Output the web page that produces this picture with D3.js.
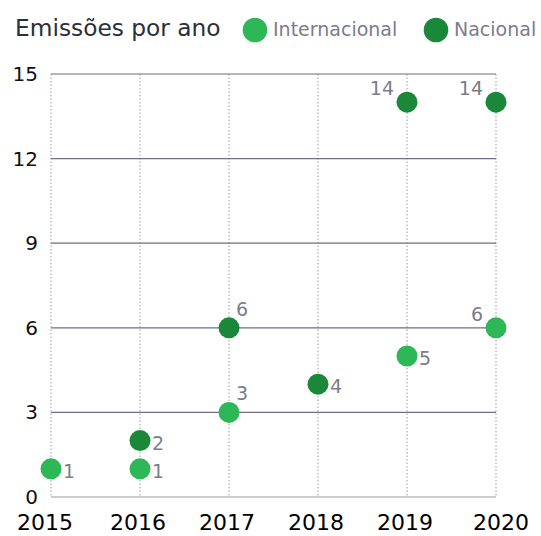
<!DOCTYPE html>
<html>
<head>
<meta charset="utf-8">
<script src="https://cdn.jsdelivr.net/npm/d3@7"></script>
<style>
  body { margin: 0; background: #fff; }
  svg { display: block; }
</style>
</head>
<body>
<div id="chart"></div>
<script>
// data
const years = [2015, 2016, 2017, 2018, 2019, 2020];
const yTicks = [0, 3, 6, 9, 12, 15];
const internacional = [
  {year: 2015, value: 1},
  {year: 2016, value: 1},
  {year: 2017, value: 3},
  {year: 2019, value: 5},
  {year: 2020, value: 6}
];
const nacional = [
  {year: 2016, value: 2},
  {year: 2017, value: 6},
  {year: 2018, value: 4},
  {year: 2019, value: 14},
  {year: 2020, value: 14}
];

const width = 541, height = 536;
const margin = {top: 74, right: 45, bottom: 39, left: 51};

const svg = d3.select('#chart')
  .append('svg')
  .attr('width', width)
  .attr('height', height);

const x = d3.scaleLinear()
  .domain([2015, 2020])
  .range([margin.left, width - margin.right]);

const y = d3.scaleLinear()
  .domain([0, 15])
  .range([height - margin.bottom, margin.top]);

const font = '"DejaVu Sans", Verdana, sans-serif';

// vertical dotted lines
svg.append('g')
  .selectAll('line')
  .data(years)
  .enter()
  .append('line')
  .attr('x1', d => x(d))
  .attr('x2', d => x(d))
  .attr('y1', y(15))
  .attr('y2', y(0))
  .attr('stroke', '#9a9aa6')
  .attr('stroke-width', 1)
  .attr('stroke-dasharray', '1.5,2');

// horizontal grid
svg.append('g')
  .selectAll('line')
  .data(yTicks)
  .enter()
  .append('line')
  .attr('x1', x(2015))
  .attr('x2', x(2020))
  .attr('y1', d => y(d))
  .attr('y2', d => y(d))
  .attr('stroke', d => d === 0 ? '#9a9aae' : '#6e6e84')
  .attr('stroke-width', 1.2);

// y labels
svg.append('g')
  .selectAll('text')
  .data(yTicks)
  .enter()
  .append('text')
  .attr('x', 38)
  .attr('y', d => y(d) + 7)
  .attr('text-anchor', 'end')
  .attr('font-family', font)
  .attr('font-size', 20)
  .attr('fill', '#111')
  .text(d => d);

// x labels (end labels pushed outward a bit like the original)
svg.append('g')
  .selectAll('text')
  .data(years)
  .enter()
  .append('text')
  .attr('x', (d, i) => x(d) + (i === 0 ? -6 : i === years.length - 1 ? 5 : -2))
  .attr('y', 530)
  .attr('text-anchor', 'middle')
  .attr('font-family', font)
  .attr('font-size', 22)
  .attr('fill', '#000')
  .text(d => d);

const colorInt = '#2db757';
const colorNac = '#1a8838';

// label placement: 'r' right, 'ur' up-right, 'ul' up-left
const place = {
  'n2017': 'ur', 'i2017': 'ur',
  'n2019': 'ul', 'n2020': 'ul', 'i2020': 'ul'
};

function drawSeries(data, color, key) {
  const g = svg.append('g');
  g.selectAll('circle')
    .data(data)
    .enter()
    .append('circle')
    .attr('cx', d => x(d.year))
    .attr('cy', d => y(d.value))
    .attr('r', 10.5)
    .attr('fill', color);

  g.selectAll('text')
    .data(data)
    .enter()
    .append('text')
    .attr('font-family', font)
    .attr('font-size', 19)
    .attr('fill', '#7c7c8c')
    .attr('x', d => {
      const p = place[key + d.year] || 'r';
      if (p === 'ul') return x(d.year) - 13;
      if (p === 'ur') return x(d.year) + 7;
      return x(d.year) + 12;
    })
    .attr('y', d => {
      const p = place[key + d.year] || 'r';
      if (p === 'r') return y(d.value) + 9;
      if (p === 'ur') return y(d.value) - 12;
      return y(d.value) - 7;
    })
    .attr('text-anchor', d => (place[key + d.year] === 'ul') ? 'end' : 'start')
    .text(d => d.value);
}

drawSeries(internacional, colorInt, 'i');
drawSeries(nacional, colorNac, 'n');

// title + legend
svg.append('text')
  .attr('x', 15)
  .attr('y', 36)
  .attr('font-family', font)
  .attr('font-size', 23.3)
  .attr('fill', '#2a2f3a')
  .text('Emissões por ano');

const legend = [
  {name: 'Internacional', color: colorInt, cx: 255},
  {name: 'Nacional', color: colorNac, cx: 436}
];
const lg = svg.append('g')
  .selectAll('g')
  .data(legend)
  .enter()
  .append('g');
lg.append('circle')
  .attr('cx', d => d.cx)
  .attr('cy', 30)
  .attr('r', 12.3)
  .attr('fill', d => d.color);
lg.append('text')
  .attr('x', d => d.cx + 18)
  .attr('y', 36)
  .attr('font-family', font)
  .attr('font-size', 19)
  .attr('fill', '#7c7c8c')
  .text(d => d.name);
</script>
</body>
</html>
